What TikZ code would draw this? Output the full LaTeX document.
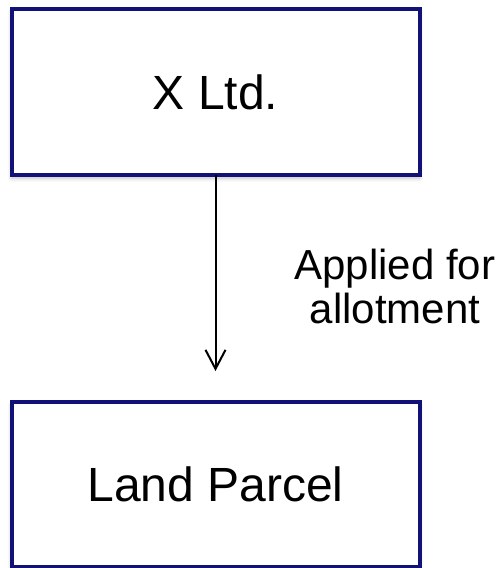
\documentclass[tikz,border=0pt]{standalone}
\usepackage{fontspec}
\setmainfont{Liberation Sans}
\usepackage{tikz}
\usetikzlibrary{arrows.meta, positioning, shadows.blur}
\definecolor{boxnavy}{RGB}{17,17,119}
\tikzset{
  party box/.style={
    draw=boxnavy,
    fill=white,
    line width=4pt,
    outer sep=0pt,
    minimum width=408pt,
    font=\fontsize{48}{56}\selectfont,
    blur shadow={shadow xshift=0pt, shadow yshift=-3pt,
      shadow opacity=25, shadow blur radius=4pt, shadow blur steps=8}
  },
  flow arrow/.style={
    -{Straight Barb[length=19pt, width=20pt]},
    line width=2pt,
    color=black
  },
  note text/.style={
    align=center,
    font=\fontsize{42}{44}\selectfont
  }
}
\begin{document}
\begin{tikzpicture}[x=1pt, y=1pt]

  %% ---- picture frame (503 x 568) ----
  \useasboundingbox (0,0) rectangle (503,-568);

  %% ---- the two boxes ----
  \node[party box, minimum height=166.6pt] (xltd) at (215.5,-92) {X Ltd.};
  \node[party box, minimum height=165pt, below=226.7pt of xltd] (parcel) {Land Parcel};

  %% ---- arrow with its label ----
  \draw[flow arrow, shorten >=31pt] (xltd) -- (parcel);
  \node[note text] (applied) at (395,-286) {Applied for\\allotment};

\end{tikzpicture}
\end{document}
